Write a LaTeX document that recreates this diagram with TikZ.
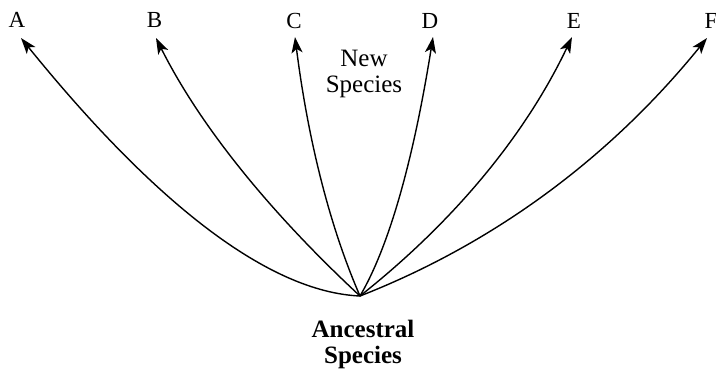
\documentclass[tikz,border=0pt]{standalone}
\usepackage{fontspec}
\setmainfont{Liberation Serif}
\usetikzlibrary{arrows.meta}
\begin{document}
\begin{tikzpicture}[x=1pt,y=-1pt,
  lbl/.style={inner sep=0pt,font=\fontsize{23}{24}\selectfont},
  txt/.style={inner sep=0pt,align=center,font=\fontsize{25}{26}\selectfont},
  branch/.style={line width=1.4pt,-{Stealth[length=16pt,width=11pt,inset=4pt]}}]
\useasboundingbox (0,0) rectangle (716,376);
\coordinate (O) at (360,296);
\coordinate (tA) at (21,38);
\coordinate (tB) at (156,38);
\coordinate (tC) at (295,37);
\coordinate (tD) at (433,37);
\coordinate (tE) at (572,37);
\coordinate (tF) at (707,38);
\node[lbl] (A) at (17,20) {A};
\node[lbl] (B) at (154.5,20) {B};
\node[lbl] (C) at (294,20.5) {C};
\node[lbl] (D) at (430,20.5) {D};
\node[lbl] (E) at (574,21) {E};
\node[lbl] (F) at (711,21) {F};
\node[txt] (new) at (364,74) {New\\Species};
\node[txt,font=\bfseries\fontsize{25}{26}\selectfont] (anc) at (363,344) {Ancestral\\Species};
\draw[branch] (O) .. controls (270,292) and (157,206) .. (tA);
\draw[branch] (O) .. controls (266.7,209.3) and (198.7,123.3) .. (tB);
\draw[branch] (O) .. controls (329.8,226.7) and (308.1,140.3) .. (tC);
\draw[branch] (O) .. controls (389.1,246.5) and (413.4,160.1) .. (tD);
\draw[branch] (O) .. controls (455.1,220.7) and (525.7,134.3) .. (tE);
\draw[branch] (O) .. controls (494.7,243.3) and (610.3,157.3) .. (tF);
\end{tikzpicture}
\end{document}
